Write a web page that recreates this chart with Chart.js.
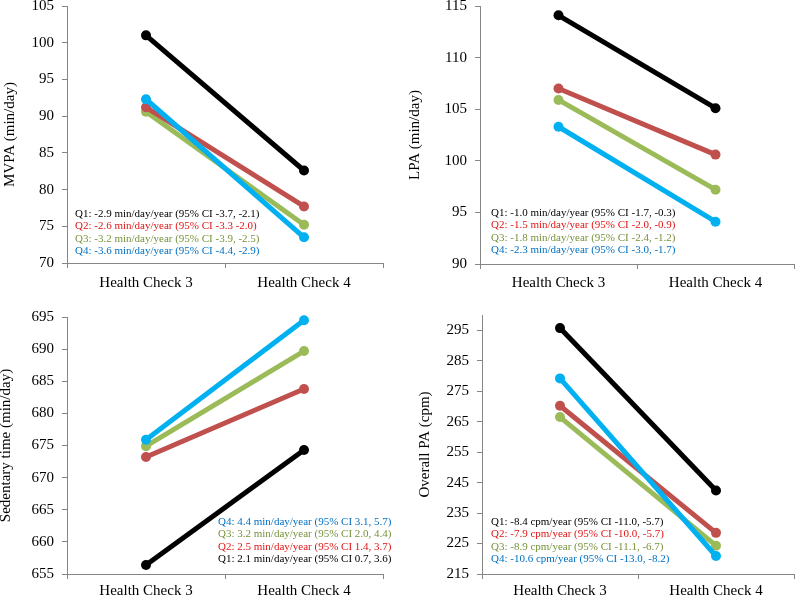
<!DOCTYPE html>
<html>
<head>
<meta charset="utf-8">
<script src="https://cdn.jsdelivr.net/npm/chart.js@4/dist/chart.umd.min.js"></script>
<style>
  body { margin: 0; width: 799px; height: 597px; overflow: hidden; background: #fff; position: relative; }
  canvas { position: absolute; }
</style>
</head>
<body>
<canvas id="mvpa" width="400" height="300" style="left:0;top:0"></canvas>
<canvas id="lpa" width="399" height="300" style="left:400px;top:0"></canvas>
<canvas id="sed" width="400" height="297" style="left:0;top:300px"></canvas>
<canvas id="overall" width="399" height="297" style="left:400px;top:300px"></canvas>
<script>
/* ---------------- data ---------------- */
const categories = ['Health Check 3', 'Health Check 4'];
const seriesNames = ['Q1', 'Q2', 'Q3', 'Q4'];

const mvpaQ1 = [101.0, 82.6];
const mvpaQ2 = [91.2, 77.7];
const mvpaQ3 = [90.6, 75.2];
const mvpaQ4 = [92.3, 73.5];
const mvpaTicks = [70, 75, 80, 85, 90, 95, 100, 105];
const mvpaNotes = [
    'Q1: -2.9 min/day/year (95% CI -3.7, -2.1)',
    'Q2: -2.6 min/day/year (95% CI -3.3 -2.0)',
    'Q3: -3.2 min/day/year (95% CI -3.9, -2.5)',
    'Q4: -3.6 min/day/year (95% CI -4.4, -2.9)'
];

const lpaQ1 = [114.1, 105.1];
const lpaQ2 = [107.0, 100.6];
const lpaQ3 = [105.9, 97.2];
const lpaQ4 = [103.3, 94.1];
const lpaTicks = [90, 95, 100, 105, 110, 115];
const lpaNotes = [
    'Q1: -1.0 min/day/year (95% CI -1.7, -0.3)',
    'Q2: -1.5 min/day/year (95% CI -2.0, -0.9)',
    'Q3: -1.8 min/day/year (95% CI -2.4, -1.2)',
    'Q4: -2.3 min/day/year (95% CI -3.0, -1.7)'
];

const sedQ1 = [656.4, 674.3];
const sedQ2 = [673.2, 683.8];
const sedQ3 = [674.9, 689.7];
const sedQ4 = [675.9, 694.5];
const sedTicks = [655, 660, 665, 670, 675, 680, 685, 690, 695];
const sedNotes = [
    'Q1: 2.1 min/day/year (95% CI 0.7, 3.6)',
    'Q2: 2.5 min/day/year (95% CI 1.4, 3.7)',
    'Q3: 3.2 min/day/year (95% CI 2.0, 4.4)',
    'Q4: 4.4 min/day/year (95% CI 3.1, 5.7)'
];

const overallQ1 = [295.7, 242.4];
const overallQ2 = [270.2, 228.5];
const overallQ3 = [266.5, 224.3];
const overallQ4 = [279.2, 220.9];
const overallTicks = [215, 225, 235, 245, 255, 265, 275, 285, 295];
const overallNotes = [
    'Q1: -8.4 cpm/year (95% CI -11.0, -5.7)',
    'Q2: -7.9 cpm/year (95% CI -10.0, -5.7)',
    'Q3: -8.9 cpm/year (95% CI -11.1, -6.7)',
    'Q4: -10.6 cpm/year (95% CI -13.0, -8.2)'
];

/* ---------------- styling ---------------- */
const lineColors = ['#000000', '#C0504D', '#9BBB59', '#00B0F0'];
const noteColors = ['#000000', '#E01515', '#77933C', '#0070C0'];
const drawOrder = [0, 2, 3, 1];   // Q1 on top, then Q4, Q2, Q3
const axisColor = '#868686';
const serif = '"Liberation Serif", "Times New Roman", serif';

Chart.defaults.font.family = serif;
Chart.defaults.color = '#000';

const panels = [
    { id: 'mvpa', title: 'MVPA (min/day)', series: [mvpaQ1, mvpaQ2, mvpaQ3, mvpaQ4],
      ticks: mvpaTicks, max: 105, notes: mvpaNotes, noteOrder: [0, 1, 2, 3],
      area: { left: 67, right: 383, top: 6, bottom: 263 }, titlePad: 1, labelPad: 6,
      note: { x: 75, y: 214 } },
    { id: 'lpa', title: 'LPA (min/day)', series: [lpaQ1, lpaQ2, lpaQ3, lpaQ4],
      ticks: lpaTicks, max: 115, notes: lpaNotes, noteOrder: [0, 1, 2, 3],
      area: { left: 80, right: 398, top: 6, bottom: 264 }, titlePad: 6, labelPad: 5,
      note: { x: 91, y: 213 } },
    { id: 'sed', title: 'Sedentary time (min/day)', series: [sedQ1, sedQ2, sedQ3, sedQ4],
      ticks: sedTicks, max: 695, notes: sedNotes, noteOrder: [3, 2, 1, 0],
      area: { left: 67, right: 383, top: 17, bottom: 274 }, titlePad: -3, labelPad: 3,
      note: { x: 218, y: 222 } },
    { id: 'overall', title: 'Overall PA (cpm)', series: [overallQ1, overallQ2, overallQ3, overallQ4],
      ticks: overallTicks, max: 300, notes: overallNotes, noteOrder: [0, 1, 2, 3],
      area: { left: 82, right: 398, top: 15, bottom: 274 }, titlePad: 16, labelPad: 3,
      note: { x: 91, y: 222 } }
];

// writes the per-quartile trend text inside the plot
const notesPlugin = {
    id: 'notes',
    afterDatasetsDraw(chart, args, opts) {
        const ctx = chart.ctx;
        ctx.save();
        ctx.font = '11px ' + serif;
        ctx.textBaseline = 'middle';
        ctx.textAlign = 'left';
        opts.order.forEach((q, i) => {
            ctx.fillStyle = noteColors[q];
            ctx.fillText(opts.lines[q], opts.x, opts.y + i * 12.5);
        });
        ctx.restore();
    }
};

function renderPanel(p) {
    const canvas = document.getElementById(p.id);
    const W = canvas.width, H = canvas.height;

    new Chart(canvas, {
        type: 'line',
        data: {
            labels: categories,
            datasets: p.series.map((values, i) => ({
                label: seriesNames[i],
                data: values,
                order: drawOrder[i],
                borderColor: lineColors[i],
                backgroundColor: lineColors[i],
                pointBackgroundColor: lineColors[i],
                borderWidth: 5,
                pointRadius: 5,
                pointBorderWidth: 0,
                tension: 0,
                fill: false,
                clip: false
            }))
        },
        options: {
            responsive: false,
            animation: false,
            devicePixelRatio: 1,
            layout: { padding: { left: 0, top: p.area.top, right: W - p.area.right, bottom: 0 } },
            plugins: {
                legend: { display: false },
                tooltip: { enabled: false },
                notes: { lines: p.notes, order: p.noteOrder, x: p.note.x, y: p.note.y }
            },
            scales: {
                x: {
                    offset: true,
                    grid: { offset: true, drawOnChartArea: false, tickLength: 5, color: axisColor },
                    border: { color: axisColor },
                    ticks: { font: { size: 15 }, padding: p.labelPad, maxRotation: 0 },
                    afterFit(scale) {
                        scale.height = H - p.area.bottom;
                        scale.paddingLeft = 0;
                        scale.paddingRight = 0;
                    }
                },
                y: {
                    min: p.ticks[0],
                    max: p.max,
                    grid: { drawOnChartArea: false, tickLength: 5, color: axisColor },
                    border: { color: axisColor },
                    ticks: { font: { size: 15 }, padding: 8 },
                    title: { display: true, text: p.title, font: { size: 15 }, padding: { top: p.titlePad, bottom: 0 } },
                    afterBuildTicks(scale) {
                        scale.ticks = p.ticks.map(v => ({ value: v }));
                    },
                    afterFit(scale) {
                        scale.width = p.area.left;
                        scale.paddingTop = 0;
                        scale.paddingBottom = 0;
                    }
                }
            }
        },
        plugins: [notesPlugin]
    });
}

panels.forEach(renderPanel);
</script>
</body>
</html>
